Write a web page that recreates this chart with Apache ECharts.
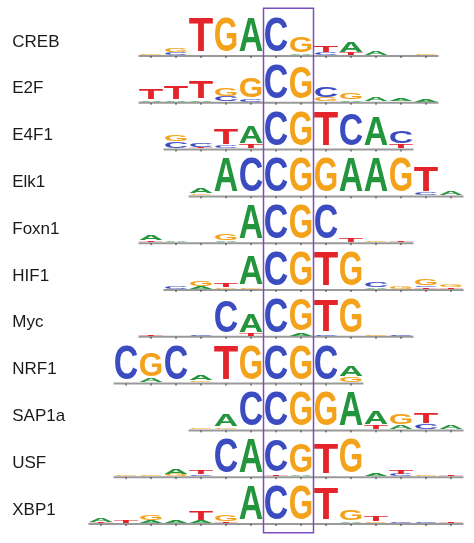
<!DOCTYPE html>
<html><head><meta charset="utf-8">
<script src="https://cdn.jsdelivr.net/npm/echarts@6/dist/echarts.min.js"></script>
<style>html,body{margin:0;padding:0;background:#fff}#c{width:474px;height:543px}</style>
</head><body><div id="c"></div>
<script>
// Motif names (rows, top to bottom)
const motifNames = ['CREB','E2F','E4F1','Elk1','Foxn1','HIF1','Myc','NRF1','SAP1a','USF','XBP1'];
// first column index (relative to boxed C at 0) for each motif
const motifStart = [-5,-5,-4,-3,-5,-4,-5,-6,-3,-6,-7];
// columns: each column lists [letter, height] bottom to top (height 1 = full letter)
const CREB = [[['G',0.05]],[['C',0.08],['G',0.12]],[['T',1]],[['G',1]],[['A',1]],[['C',1]],[['A',0.05],['G',0.45]],[['C',0.06],['T',0.18]],[['T',0.06],['A',0.3]],[['A',0.12]],[],[['G',0.05]]];
const E2F = [[['A',0.04],['T',0.32]],[['A',0.04],['T',0.4]],[['A',0.04],['T',0.52]],[['C',0.14],['G',0.22]],[['C',0.06],['G',0.6]],[['C',1]],[['G',0.92]],[['G',0.1],['C',0.32]],[['A',0.05],['G',0.2]],[['A',0.1]],[['A',0.08]],[['A',0.07]]];
const E4F1 = [[['C',0.2],['G',0.2]],[['T',0.05],['C',0.1]],[['C',0.08],['T',0.45]],[['T',0.1],['A',0.5]],[['C',1]],[['G',1]],[['T',1]],[['C',0.95]],[['A',0.85]],[['T',0.12],['C',0.35]]];
const Elk1 = [[['G',0.04],['A',0.15]],[['A',1]],[['C',1]],[['C',1]],[['G',1]],[['G',1]],[['A',1]],[['A',1]],[['G',1]],[['C',0.06],['T',0.72]],[['A',0.1]]];
const Foxn1 = [[['T',0.05],['A',0.15]],[['A',0.05]],[],[['A',0.04],['G',0.2]],[['A',1]],[['C',1]],[['G',1]],[['C',1]],[['T',0.1]],[['G',0.05]],[['T',0.05]]];
const HIF1 = [[['C',0.08]],[['A',0.07],['G',0.15]],[['G',0.05],['T',0.12]],[['G',0.04],['A',0.85]],[['C',1]],[['G',1]],[['T',1]],[['G',1]],[['A',0.05],['C',0.15]],[['G',0.08]],[['T',0.05],['C',0.04],['G',0.18]],[['T',0.04],['G',0.07]]];
const Myc = [[['T',0.03]],[],[['C',0.05]],[['C',0.95]],[['T',0.06],['A',0.55]],[['C',1]],[['A',0.06],['G',0.92]],[['C',0.04],['T',0.92]],[['G',1]],[['G',0.03]],[['C',0.04]]];
const NRF1 = [[['C',1]],[['A',0.1],['G',0.7]],[['C',1]],[['G',0.05],['A',0.15]],[['T',1]],[['G',1]],[['C',1]],[['G',1]],[['C',1]],[['G',0.15],['A',0.3]]];
const SAP1a = [[['G',0.05]],[['G',0.05],['A',0.35]],[['C',1]],[['C',1]],[['G',1]],[['G',1]],[['A',1]],[['T',0.1],['A',0.4]],[['A',0.12],['G',0.3]],[['C',0.15],['T',0.3]],[['A',0.12]]];
const USF = [[['G',0.03]],[['G',0.04]],[['G',0.06],['A',0.14]],[['C',0.05],['T',0.1]],[['C',1]],[['A',1]],[['T',0.05],['C',0.92]],[['A',0.04],['G',0.85]],[['T',0.9]],[['G',1]],[['A',0.08]],[['C',0.06],['T',0.1]],[['G',0.04]],[['T',0.04]]];
const XBP1 = [[['T',0.03],['A',0.1]],[['T',0.06]],[['A',0.06],['G',0.15]],[['A',0.08]],[['A',0.06],['T',0.25]],[['T',0.05],['G',0.2]],[['A',1]],[['C',1]],[['G',1]],[['T',0.95]],[['A',0.05],['G',0.3]],[['G',0.05],['T',0.15]],[['C',0.04]],[['C',0.04]],[['T',0.04]]];
const motifs = [CREB,E2F,E4F1,Elk1,Foxn1,HIF1,Myc,NRF1,SAP1a,USF,XBP1];
// boxed columns
const boxCols = [0,1];

const colors = {A:'#23953c',C:'#3b4cc0',G:'#f5a21b',T:'#e4242a'};
const widths = {A:0.722,C:0.722,G:0.778,T:0.611};
const FS = 30, CAP = 0.716, LETTER_PX = 34, COL_PX = 24.5;

const letterData = [], lineData = [];
motifs.forEach((cols, r) => {
  const s = motifStart[r];
  lineData.push([s, s + cols.length - 1, r]);
  cols.forEach((col, i) => {
    let acc = 0;
    col.forEach(([L, h]) => { letterData.push([s + i, r, acc, h, L]); acc += h; });
  });
});
const labelData = motifNames.map((n, r) => [-10.55, r, n]);

const chart = echarts.init(document.getElementById('c'));
const rowPx = 46.8, colPx = 25;
chart.setOption({
  animation:false,
  grid:{left:0,right:0,top:0,bottom:0},
  xAxis:{type:'value',min:-276/colPx,max:-276/colPx+474/colPx,show:false},
  yAxis:{type:'value',inverse:true,min:-55/rowPx,max:-55/rowPx+543/rowPx,show:false},
  series:[
    {type:'custom',data:lineData,renderItem:(p,api)=>{
      const a=api.coord([api.value(0)-0.5,api.value(2)]), b=api.coord([api.value(1)+0.5,api.value(2)]);
      const ch=[{type:'line',shape:{x1:a[0],y1:a[1]+1,x2:b[0],y2:b[1]+1},style:{stroke:'#9a9a9a',lineWidth:2}}];
      for(let k=api.value(0);k<=api.value(1);k++){const c=api.coord([k,api.value(2)]);
        ch.push({type:'line',shape:{x1:c[0],y1:c[1]+1,x2:c[0],y2:c[1]+3},style:{stroke:'#333',lineWidth:1}});}
      return {type:'group',children:ch};
    }},
    {type:'custom',data:letterData,renderItem:(p,api)=>{
      const L=letterData[p.dataIndex][4];
      const base=api.coord([api.value(0),api.value(1)]);
      const h=api.value(3)*LETTER_PX, off=api.value(2)*LETTER_PX;
      if(h<0.5) return null;
      return {type:'text',x:base[0],y:base[1]-off,scaleX:COL_PX/(widths[L]*FS),scaleY:h/(CAP*FS),originX:0,originY:0,
        style:{x:0,y:-0.358*FS,text:L,fill:colors[L],font:'bold '+FS+'px "Liberation Sans", Arial',align:'center',verticalAlign:'middle'}};
    }},
    {type:'custom',data:labelData,renderItem:(p,api)=>{
      const c=api.coord([api.value(0),api.value(1)]);
      return {type:'text',x:c[0],y:c[1]-13,style:{text:labelData[p.dataIndex][2],fill:'#1a1a1a',font:'17px "Liberation Sans", Arial',align:'left',verticalAlign:'middle'}};
    }},
    {type:'custom',data:[[boxCols[0],boxCols[1]]],renderItem:(p,api)=>{
      const a=api.coord([api.value(0)-0.5,-1.0]), b=api.coord([api.value(1)+0.5,10.21]);
      return {type:'rect',shape:{x:a[0],y:a[1],width:b[0]-a[0],height:b[1]-a[1]},style:{fill:'none',stroke:'#7b4dbd',lineWidth:1.5}};
    }}
  ]
});
</script></body></html>
